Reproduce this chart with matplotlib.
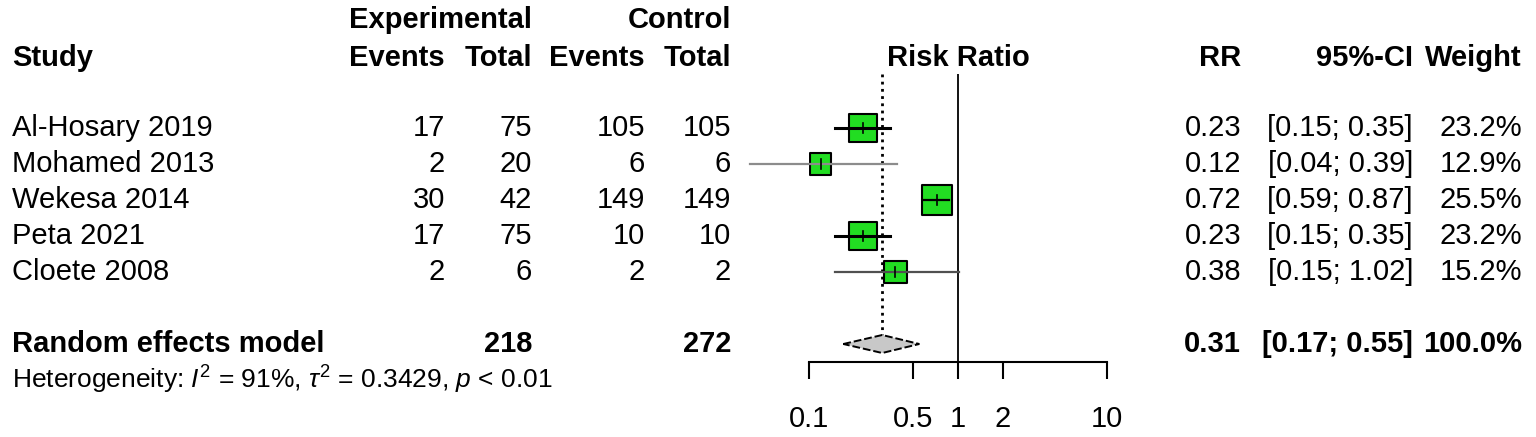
import matplotlib.pyplot as plt
import matplotlib.transforms as mtransforms
import numpy as np

plt.rcParams['font.family'] = ['Liberation Sans', 'DejaVu Sans']
plt.rcParams['mathtext.fontset'] = 'custom'
plt.rcParams['mathtext.rm'] = 'Liberation Sans'
plt.rcParams['mathtext.it'] = 'Liberation Sans:italic'

# data
studies = ["Al-Hosary 2019", "Mohamed 2013", "Wekesa 2014", "Peta 2021", "Cloete 2008"]
exp_events = [17, 2, 30, 17, 2]
exp_total = [75, 20, 42, 75, 6]
ctrl_events = [105, 6, 149, 10, 2]
ctrl_total = [105, 6, 149, 10, 2]
rr = [0.23, 0.12, 0.72, 0.23, 0.38]
ci_low = [0.15, 0.04, 0.59, 0.15, 0.15]
ci_high = [0.35, 0.39, 0.87, 0.35, 1.02]
weight = [23.2, 12.9, 25.5, 23.2, 15.2]

pooled_rr = 0.31
pooled_low = 0.17
pooled_high = 0.55
pooled_exp_total = 218
pooled_ctrl_total = 272
pooled_label = "Random effects model"
heterogeneity = r"Heterogeneity: $I^2$ = 91%, $\tau^2$ = 0.3429, $p$ < 0.01"

ticks = [0.1, 0.5, 1, 2, 10]
tick_labels = ["0.1", "0.5", "1", "2", "10"]

# styling
ci_colors = ["black", "#8c8c8c", "black", "black", "#505050"]
ci_widths = [2.2, 1.6, 1.6, 2.2, 1.6]
box_green = "#22dd22"
fs = 21

W, H = 1536, 437
fig = plt.figure(figsize=(W / 100, H / 100), dpi=100)

# rows: study i at row i+1, pooled at row 7
row_top = -92 / 36
row_bot = (H - 92) / 36
ax = fig.add_axes([809 / W, 0, 298 / W, 1])
ax.set_xscale("log")
ax.set_xlim(0.1, 10)
ax.set_ylim(row_bot, row_top)

rows = np.arange(1, len(studies) + 1)
pooled_row = 7

# axis
for s in ["top", "right", "left"]:
    ax.spines[s].set_visible(False)
ax.spines["bottom"].set_position(("data", 7.5))
ax.spines["bottom"].set_linewidth(1.5)
ax.set_yticks([])
ax.set_xticks(ticks)
ax.set_xticklabels(tick_labels)
ax.minorticks_off()
ax.tick_params(axis="x", direction="out", length=12, width=1.5, pad=19, labelsize=fs)
ax.patch.set_visible(False)

# reference lines
ax.plot([1, 1], [-0.5, 7.5], color="black", lw=1.3, solid_capstyle="butt")
ax.plot([pooled_rr, pooled_rr], [-0.5, 6.75], color="black", lw=2, ls=(0, (1, 1.6)))

# study boxes and CIs
ax.scatter(rr, rows, s=np.array(weight) * 18, marker="s", facecolor=box_green,
           edgecolor="black", linewidths=1.5, zorder=3)
for r, lo, hi, c, lw, y in zip(rr, ci_low, ci_high, ci_colors, ci_widths, rows):
    ax.plot([lo, hi], [y, y], color=c, lw=lw, zorder=4, clip_on=False)
    ax.plot([r, r], [y - 0.13, y + 0.13], color="black", lw=1.2, zorder=5)

# pooled diamond
ax.fill([pooled_low, pooled_rr, pooled_high, pooled_rr],
        [pooled_row, pooled_row - 0.25, pooled_row, pooled_row + 0.25],
        facecolor="#c8c8c8", edgecolor="black", lw=1.4, ls=(0, (4, 1.5)), zorder=3)

ax.text(1, -0.95, "Risk Ratio", ha="center", va="center", fontsize=fs, fontweight="bold")

# text columns
tr = mtransforms.blended_transform_factory(fig.transFigure, ax.transData)


def col(x_px, y, s, ha="right", bold=False, size=fs):
    fig.text(x_px / W, y, s, transform=tr, ha=ha, va="center", fontsize=size,
             fontweight="bold" if bold else "normal")


col(12, -0.95, "Study", ha="left", bold=True)
col(532, -2.0, "Experimental", bold=True)
col(731, -2.0, "Control", bold=True)
col(445, -0.95, "Events", bold=True)
col(532, -0.95, "Total", bold=True)
col(645, -0.95, "Events", bold=True)
col(731, -0.95, "Total", bold=True)
col(1241, -0.95, "RR", bold=True)
col(1413, -0.95, "95%-CI", bold=True)
col(1522, -0.95, "Weight", bold=True)

for i, y in enumerate(rows):
    col(12, y, studies[i], ha="left")
    col(445, y, str(exp_events[i]))
    col(532, y, str(exp_total[i]))
    col(645, y, str(ctrl_events[i]))
    col(731, y, str(ctrl_total[i]))
    col(1241, y, f"{rr[i]:.2f}")
    col(1413, y, f"[{ci_low[i]:.2f}; {ci_high[i]:.2f}]")
    col(1522, y, f"{weight[i]:.1f}%")

col(12, pooled_row, pooled_label, ha="left", bold=True)
col(532, pooled_row, str(pooled_exp_total), bold=True)
col(731, pooled_row, str(pooled_ctrl_total), bold=True)
col(1241, pooled_row, f"{pooled_rr:.2f}", bold=True)
col(1413, pooled_row, f"[{pooled_low:.2f}; {pooled_high:.2f}]", bold=True)
col(1522, pooled_row, f"{sum(weight):.1f}%", bold=True)
col(12, 8.0, heterogeneity, ha="left", size=19)

fig.savefig("out.png", dpi=100)
